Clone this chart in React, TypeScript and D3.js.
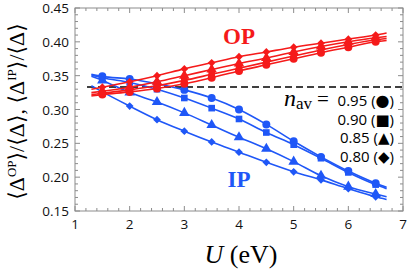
import React from "react";
import * as d3 from "d3";

const U = [1.5, 2, 2.5, 3, 3.5, 4, 4.5, 5, 5.5, 6, 6.5];
const fitU = [1.3, 6.7];

const ipCircle = [0.349, 0.345, 0.338, 0.329, 0.317, 0.3, 0.278, 0.253, 0.23, 0.209, 0.191];
const ipSquare = [0.347, 0.34, 0.33, 0.317, 0.302, 0.286, 0.266, 0.248, 0.228, 0.207, 0.189];
const ipTriangle = [0.343, 0.325, 0.311, 0.295, 0.277, 0.259, 0.242, 0.223, 0.202, 0.186, 0.175];
const ipDiamond = [0.326, 0.305, 0.285, 0.268, 0.252, 0.237, 0.222, 0.208, 0.196, 0.183, 0.171];

const opCircle = [0.322, 0.326, 0.331, 0.338, 0.347, 0.357, 0.366, 0.375, 0.384, 0.392, 0.4];
const opSquare = [0.324, 0.329, 0.335, 0.343, 0.352, 0.361, 0.37, 0.379, 0.388, 0.396, 0.403];
const opTriangle = [0.327, 0.333, 0.341, 0.35, 0.359, 0.368, 0.376, 0.385, 0.393, 0.4, 0.406];
const opDiamond = [0.333, 0.341, 0.35, 0.36, 0.369, 0.378, 0.385, 0.392, 0.398, 0.404, 0.41];

const ipFitEnds = [[0.352, 0.185], [0.351, 0.183], [0.349, 0.171], [0.335, 0.167]];
const opFitEnds = [[0.32, 0.402], [0.322, 0.405], [0.325, 0.408], [0.33, 0.413]];

const nav = ["0.95", "0.90", "0.85", "0.80"];
const navGlyph = ["●", "■", "▲", "◆"];
const xTicks = [1, 2, 3, 4, 5, 6, 7];
const yTicks = [0.15, 0.2, 0.25, 0.3, 0.35, 0.4, 0.45];
const halfFilling = 1 / 3;

const BLUE = "#1f57f7";
const RED = "#f51a1a";
const AX = "#8c8c8c";

const W = 408, H = 269;
const L = 75, R = 403, T = 8, B = 211;

export default function App() {
  const x = d3.scaleLinear().domain([1, 7]).range([L, R]);
  const y = d3.scaleLinear().domain([0.15, 0.45]).range([B, T]);

  const symTypes = [d3.symbolCircle, d3.symbolSquare, d3.symbolTriangle, d3.symbolSquare];
  const symSizes = [50, 44, 48, 30];
  const symRot = [0, 0, 0, 45];

  const line = d3
    .line<[number, number]>()
    .x((d) => x(d[0]))
    .y((d) => y(d[1]))
    .curve(d3.curveMonotoneX);

  const ip = [ipCircle, ipSquare, ipTriangle, ipDiamond];
  const op = [opCircle, opSquare, opTriangle, opDiamond];

  const seriesPath = (vals: number[], ends: number[]) => {
    const pts: [number, number][] = [[fitU[0], ends[0]], ...U.map((u, i) => [u, vals[i]] as [number, number]), [fitU[1], ends[1]]];
    return line(pts) || "";
  };

  const xMinor = d3.range(1, 7.0001, 0.2);
  const yMinor = d3.range(0.15, 0.4501, 0.01);

  const renderSeries = (groups: number[][], ends: number[][], color: string, key: string) => (
    <g key={key}>
      {groups.map((vals, si) => (
        <path key={"l" + si} d={seriesPath(vals, ends[si])} fill="none" stroke={color} strokeWidth={1.6} />
      ))}
      {groups.map((vals, si) =>
        vals.map((v, i) => (
          <path
            key={"m" + si + "-" + i}
            d={d3.symbol().type(symTypes[si]).size(symSizes[si])() || ""}
            transform={`translate(${x(U[i])},${y(v)}) rotate(${symRot[si]})`}
            fill={color}
          />
        ))
      )}
    </g>
  );

  return (
    <svg width={W} height={H} style={{ position: "absolute", left: 0, top: 0, background: "#fff" }}>
      <rect x={L} y={T} width={R - L} height={B - T} fill="none" stroke={AX} strokeWidth={1} />
      {xMinor.map((t, i) => {
        const major = Math.abs(t - Math.round(t)) < 1e-6;
        const len = major ? 5 : 3;
        return (
          <g key={"xt" + i}>
            <line x1={x(t)} x2={x(t)} y1={B} y2={B - len} stroke={AX} />
            <line x1={x(t)} x2={x(t)} y1={T} y2={T + len} stroke={AX} />
          </g>
        );
      })}
      {yMinor.map((t, i) => {
        const major = Math.abs(t * 20 - Math.round(t * 20)) < 1e-6;
        const len = major ? 5 : 3;
        return (
          <g key={"yt" + i}>
            <line x1={L} x2={L + len} y1={y(t)} y2={y(t)} stroke={AX} />
            <line x1={R} x2={R - len} y1={y(t)} y2={y(t)} stroke={AX} />
          </g>
        );
      })}
      {xTicks.map((t) => (
        <text key={"xl" + t} x={x(t)} y={229} textAnchor="middle" fontFamily="Open Sans" fontSize={13.5} fill="#111">
          {t}
        </text>
      ))}
      {yTicks.map((t) => (
        <text key={"yl" + t} x={69} y={y(t) + 5} textAnchor="end" fontFamily="Open Sans" fontSize={13.5} fill="#111">
          {t.toFixed(2)}
        </text>
      ))}

      <line x1={x(1.22)} x2={R} y1={y(halfFilling)} y2={y(halfFilling)} stroke="#000" strokeWidth={1.5} strokeDasharray="7,4" />

      {renderSeries(ip, ipFitEnds, BLUE, "ip")}
      {renderSeries(op, opFitEnds, RED, "op")}

      <text x={239} y={44} textAnchor="middle" fontFamily="Liberation Serif" fontWeight="bold" fontSize={23} fill={RED}>
        OP
      </text>
      <text x={239} y={187} textAnchor="middle" fontFamily="Liberation Serif" fontWeight="bold" fontSize={23} fill={BLUE}>
        IP
      </text>

      <text x={284} y={106} fontFamily="Liberation Serif" fill="#000">
        <tspan fontStyle="italic" fontSize={24}>n</tspan>
        <tspan fontSize={17} dy={3}>av</tspan>
        <tspan fontSize={21} dy={-3} dx={5}>=</tspan>
      </text>
      {nav.map((n, i) => (
        <text key={"lg" + i} x={394} y={106 + i * 18.5} textAnchor="end" fontFamily="Open Sans" fontSize={15} fill="#000">
          {n} (<tspan fontFamily="DejaVu Sans" fontSize={i === 0 ? 16 : 15}>{navGlyph[i]}</tspan>)
        </text>
      ))}

      <text x={241} y={263} textAnchor="middle" fontFamily="Liberation Serif" fontSize={26} fill="#000">
        <tspan fontStyle="italic">U</tspan> (eV)
      </text>
      <text
        transform={`translate(24,${(T + B) / 2 + 2}) rotate(-90)`}
        textAnchor="middle"
        fontFamily="Liberation Serif, DejaVu Serif"
        fontSize={22}
        fill="#000"
      >
        ⟨Δ<tspan fontSize={13} dy={-8}>OP</tspan><tspan dy={8}>⟩/⟨Δ⟩, ⟨Δ</tspan>
        <tspan fontSize={13} dy={-8}>IP</tspan><tspan dy={8}>⟩/⟨Δ⟩</tspan>
      </text>
    </svg>
  );
}
